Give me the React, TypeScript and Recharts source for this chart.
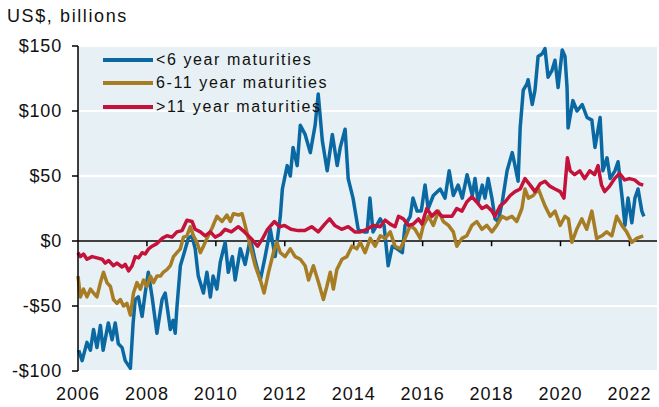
import { LineChart, Line, XAxis, YAxis, CartesianGrid, ReferenceLine } from "recharts";

// [decimal year, US$ bn]
const shortMaturities: [number, number][] = [
  [2006.02, -84], [2006.12, -92], [2006.26, -78], [2006.36, -84], [2006.45, -68], [2006.55, -82],
  [2006.65, -65], [2006.73, -84], [2006.88, -63], [2006.99, -76], [2007.08, -63], [2007.17, -79],
  [2007.28, -82], [2007.37, -92], [2007.52, -98], [2007.6, -63], [2007.66, -45], [2007.75, -43],
  [2007.86, -58], [2007.95, -40], [2008.04, -24], [2008.15, -43], [2008.29, -71], [2008.44, -45],
  [2008.53, -40], [2008.68, -68], [2008.76, -61], [2008.82, -71], [2008.87, -51], [2008.97, -19],
  [2009.05, -12], [2009.2, 2], [2009.31, 4], [2009.4, -6], [2009.49, -27], [2009.64, -40],
  [2009.74, -24], [2009.84, -43], [2009.92, -27], [2010.03, -37], [2010.13, -16], [2010.27, -1],
  [2010.36, -24], [2010.48, -12], [2010.56, -30], [2010.71, -6], [2010.85, -18], [2011.0, 2],
  [2011.14, -15], [2011.29, -30], [2011.43, -12], [2011.58, 9], [2011.72, -12], [2011.87, 19],
  [2011.93, 40], [2012.07, 58], [2012.16, 50], [2012.24, 72], [2012.36, 58], [2012.45, 89],
  [2012.59, 82], [2012.74, 68], [2012.88, 89], [2012.97, 113], [2013.09, 77], [2013.23, 54],
  [2013.38, 82], [2013.52, 58], [2013.61, 72], [2013.75, 86], [2013.84, 48], [2013.98, 33],
  [2014.13, 9], [2014.3, 7], [2014.39, 7], [2014.47, 33], [2014.56, 7], [2014.77, 17],
  [2014.88, 12], [2015.0, -19], [2015.12, -4], [2015.26, -6], [2015.41, -9], [2015.49, 12],
  [2015.64, 19], [2015.72, 33], [2015.84, 23], [2015.96, 23], [2016.07, 43], [2016.16, 25],
  [2016.31, 35], [2016.51, 40], [2016.65, 33], [2016.77, 54], [2016.89, 35], [2017.03, 43],
  [2017.15, 33], [2017.29, 51], [2017.44, 35], [2017.52, 48], [2017.61, 30], [2017.73, 43],
  [2017.81, 33], [2017.9, 48], [2018.01, 33], [2018.1, 17], [2018.19, 15], [2018.31, 30],
  [2018.45, 54], [2018.6, 68], [2018.68, 58], [2018.77, 46], [2018.83, 87], [2018.92, 116],
  [2019.03, 121], [2019.06, 124], [2019.18, 105], [2019.26, 116], [2019.35, 142], [2019.47, 144],
  [2019.55, 148], [2019.64, 126], [2019.75, 131], [2019.84, 139], [2019.93, 118], [2020.05, 147],
  [2020.13, 142], [2020.19, 118], [2020.22, 87], [2020.36, 108], [2020.48, 100], [2020.63, 105],
  [2020.77, 95], [2020.91, 93], [2021.0, 72], [2021.15, 95], [2021.23, 54], [2021.35, 64],
  [2021.44, 48], [2021.58, 54], [2021.67, 61], [2021.79, 33], [2021.87, 12], [2021.96, 33],
  [2022.07, 14], [2022.16, 33], [2022.25, 40], [2022.36, 23], [2022.42, 19],
];

const midMaturities: [number, number][] = [
  [2006.0, -27], [2006.07, -43], [2006.16, -37], [2006.26, -43], [2006.36, -37], [2006.45, -40],
  [2006.55, -43], [2006.65, -32], [2006.74, -24], [2006.84, -32], [2006.94, -35], [2007.03, -45],
  [2007.13, -48], [2007.23, -45], [2007.32, -50], [2007.42, -48], [2007.52, -57], [2007.61, -40],
  [2007.71, -32], [2007.81, -37], [2007.9, -30], [2008.0, -35], [2008.1, -27], [2008.19, -32],
  [2008.29, -27], [2008.39, -27], [2008.48, -24], [2008.58, -22], [2008.68, -19], [2008.77, -12],
  [2008.87, -9], [2008.97, -6], [2009.06, 3], [2009.16, 4], [2009.26, 11], [2009.35, 4],
  [2009.45, -1], [2009.55, -9], [2009.64, -4], [2009.74, 2], [2009.89, 10], [2010.03, 19],
  [2010.18, 15], [2010.32, 20], [2010.42, 15], [2010.51, 21], [2010.66, 20], [2010.76, 21],
  [2010.85, 12], [2011.0, -4], [2011.14, -19], [2011.29, -30], [2011.4, -40], [2011.53, -24],
  [2011.67, -9], [2011.77, -1], [2011.87, -9], [2012.01, -12], [2012.16, -6], [2012.3, -12],
  [2012.45, -14], [2012.59, -19], [2012.69, -30], [2012.83, -19], [2012.98, -32], [2013.12, -45],
  [2013.22, -35], [2013.32, -24], [2013.41, -37], [2013.51, -22], [2013.66, -14], [2013.8, -12],
  [2013.95, -4], [2014.09, -6], [2014.19, -1], [2014.33, -9], [2014.48, 2], [2014.62, -4],
  [2014.77, 4], [2014.91, 2], [2015.06, 7], [2015.2, -4], [2015.35, -6], [2015.49, 2],
  [2015.64, 12], [2015.78, 9], [2015.93, 2], [2016.02, 12], [2016.17, 19], [2016.31, 12],
  [2016.46, 23], [2016.6, 15], [2016.75, 12], [2016.89, 7], [2016.99, -4], [2017.14, 2],
  [2017.28, 4], [2017.43, 12], [2017.57, 15], [2017.72, 9], [2017.86, 12], [2018.01, 7],
  [2018.15, 12], [2018.3, 19], [2018.44, 17], [2018.59, 19], [2018.73, 15], [2018.88, 25],
  [2018.97, 40], [2019.07, 33], [2019.21, 35], [2019.36, 40], [2019.46, 33], [2019.55, 27],
  [2019.7, 19], [2019.84, 23], [2019.99, 12], [2020.13, 19], [2020.23, 17], [2020.33, -1],
  [2020.47, 9], [2020.62, 17], [2020.76, 9], [2020.91, 23], [2021.05, 2], [2021.2, 4],
  [2021.34, 7], [2021.49, 4], [2021.63, 19], [2021.78, 12], [2021.92, 7], [2022.07, -1],
  [2022.21, 2], [2022.4, 4],
];

const longMaturities: [number, number][] = [
  [2006.0, -9], [2006.07, -12], [2006.16, -10], [2006.26, -14], [2006.41, -12], [2006.55, -13],
  [2006.7, -14], [2006.79, -17], [2006.89, -15], [2007.03, -19], [2007.13, -17], [2007.28, -20],
  [2007.37, -18], [2007.47, -23], [2007.57, -19], [2007.66, -12], [2007.76, -13], [2007.86, -9],
  [2007.95, -10], [2008.05, -6], [2008.15, -4], [2008.29, -2], [2008.44, 2], [2008.58, 4],
  [2008.73, 3], [2008.87, 7], [2009.02, 8], [2009.16, 16], [2009.31, 15], [2009.4, 9],
  [2009.55, 7], [2009.69, 4], [2009.84, 7], [2009.98, 3], [2010.13, 5], [2010.27, 9],
  [2010.45, 7], [2010.65, 11], [2010.83, 7], [2011.02, 2], [2011.21, -4], [2011.36, 2],
  [2011.5, 9], [2011.7, 15], [2011.85, 11], [2011.99, 12], [2012.18, 9], [2012.39, 8],
  [2012.58, 8], [2012.78, 11], [2012.97, 7], [2013.16, 13], [2013.3, 17], [2013.45, 12],
  [2013.65, 9], [2013.84, 11], [2014.03, 7], [2014.19, 7], [2014.38, 9], [2014.57, 12],
  [2014.77, 11], [2014.91, 16], [2015.06, 13], [2015.2, 11], [2015.3, 19], [2015.44, 17],
  [2015.59, 12], [2015.73, 13], [2015.88, 17], [2015.98, 13], [2016.12, 25], [2016.27, 19],
  [2016.41, 23], [2016.56, 19], [2016.7, 19], [2016.85, 19], [2016.99, 25], [2017.14, 23],
  [2017.28, 30], [2017.43, 34], [2017.57, 30], [2017.72, 25], [2017.86, 27], [2018.01, 23],
  [2018.1, 19], [2018.25, 27], [2018.39, 30], [2018.54, 35], [2018.68, 38], [2018.83, 40],
  [2018.97, 48], [2019.12, 43], [2019.26, 38], [2019.41, 44], [2019.55, 46], [2019.7, 42],
  [2019.84, 40], [2019.99, 38], [2020.1, 33], [2020.2, 64], [2020.28, 54], [2020.41, 51],
  [2020.56, 54], [2020.7, 48], [2020.85, 54], [2020.99, 51], [2021.09, 58], [2021.19, 43],
  [2021.28, 38], [2021.42, 42], [2021.57, 48], [2021.71, 52], [2021.86, 47], [2022.0, 48],
  [2022.15, 47], [2022.29, 44], [2022.4, 43],
];

const yearTicks = [2006, 2008, 2010, 2012, 2014, 2016, 2018, 2020, 2022];
const valueTicks = [-100, -50, 0, 50, 100, 150];

const series = [
  { name: "<6 year maturities", color: "#0a69a3", points: shortMaturities },
  { name: "6-11 year maturities", color: "#a67d24", points: midMaturities },
  { name: ">11 year maturities", color: "#c4123a", points: longMaturities },
];

const font = "'Liberation Sans', Arial, sans-serif";

const formatDollars = (v: number) => (v < 0 ? `-$${Math.abs(v)}` : `$${v}`);

export default function App() {
  return (
    <div style={{ position: "absolute", left: 0, top: 0, width: 659, height: 407, background: "#fff", fontFamily: font }}>
      <div style={{ position: "absolute", left: 7, top: 6, fontSize: 18, letterSpacing: 1.6, color: "#111" }}>
        US$, billions
      </div>
      <LineChart width={659} height={407} margin={{ top: 46, right: 2, bottom: 0, left: 0 }}>
        <CartesianGrid horizontal vertical={false} stroke="#ffffff" strokeWidth={2} fill="#e7f0f4" />
        <XAxis
          type="number"
          dataKey="t"
          domain={[2006, 2022.8]}
          ticks={yearTicks}
          axisLine={false}
          tickLine={false}
          height={36}
          tickMargin={10}
          interval={0}
          tick={{ fill: "#111", fontSize: 18, fontFamily: font, letterSpacing: 1 }}
        />
        <YAxis
          type="number"
          domain={[-100, 150]}
          ticks={valueTicks}
          width={78}
          axisLine={{ stroke: "#000", strokeWidth: 1.5 }}
          tickLine={{ stroke: "#000", strokeWidth: 1.5 }}
          tickSize={6}
          tickMargin={10}
          tickFormatter={formatDollars}
          tick={{ fill: "#111", fontSize: 18, fontFamily: font, letterSpacing: 0.8 }}
        />
        <ReferenceLine y={0} stroke="#000" strokeWidth={1.5} />
        {yearTicks.slice(1).map((yr) => (
          <ReferenceLine key={yr} segment={[{ x: yr, y: 0 }, { x: yr, y: -4 }]} stroke="#000" strokeWidth={1.5} />
        ))}
        {series.map((s) => (
          <Line
            key={s.name}
            data={s.points.map(([t, v]) => ({ t, v }))}
            dataKey="v"
            name={s.name}
            stroke={s.color}
            strokeWidth={3.5}
            strokeLinejoin="round"
            dot={false}
            activeDot={false}
            isAnimationActive={false}
          />
        ))}
      </LineChart>
      <div style={{ position: "absolute", left: 103, top: 48 }}>
        {series.map((s) => (
          <div key={s.name} style={{ display: "flex", alignItems: "center", height: 23.5 }}>
            <div style={{ width: 50, height: 4, background: s.color, marginRight: 3 }} />
            <span style={{ fontSize: 16, letterSpacing: 1.6, color: "#111" }}>{s.name}</span>
          </div>
        ))}
      </div>
    </div>
  );
}
